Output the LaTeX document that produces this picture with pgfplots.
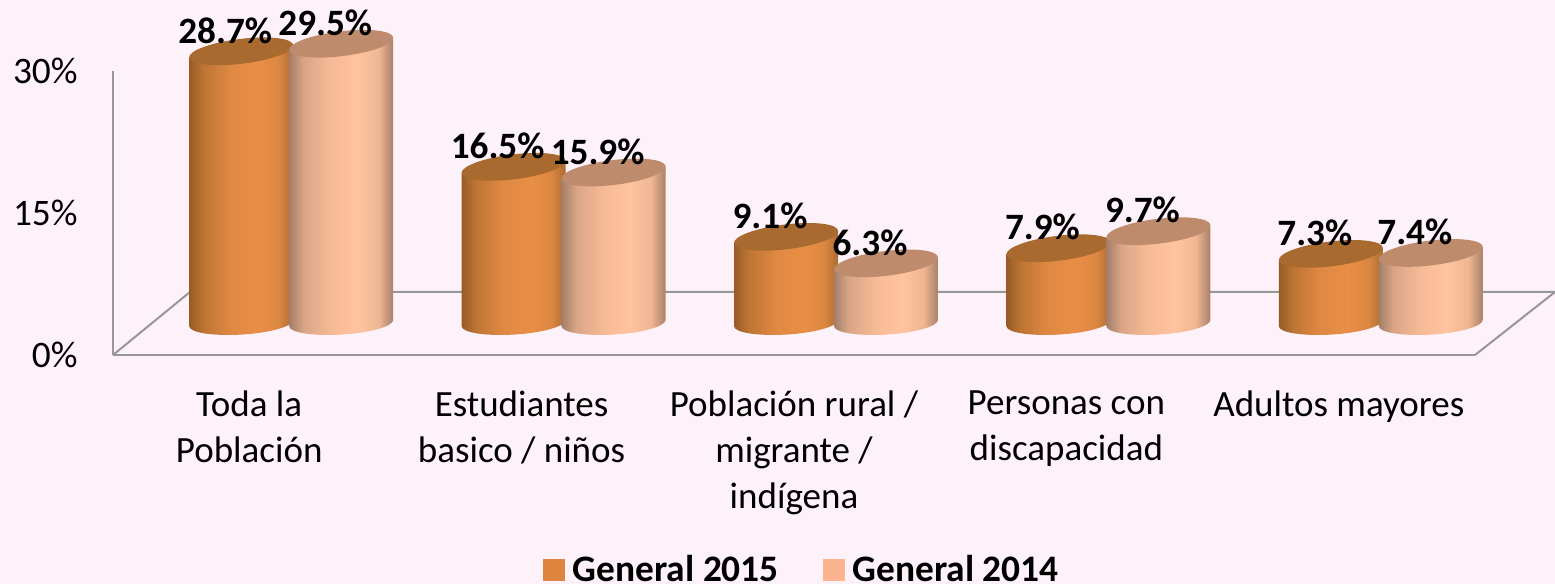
\documentclass[border=0pt]{standalone}
\usepackage{fontspec}
\setmainfont{Carlito}
\usepackage{pgfplots}
\pgfplotsset{compat=1.18}

\definecolor{bg}{HTML}{FEF2FA}
\definecolor{wall}{HTML}{979797}
\definecolor{topA}{HTML}{A96A30}
\definecolor{topB}{HTML}{BE8C6D}
\definecolor{legA}{HTML}{DD853E}
\definecolor{legB}{HTML}{FBB48F}
\pgfdeclarehorizontalshading{cylA}{100bp}{
  rgb(0bp)=(.588,.361,.149); rgb(25bp)=(.588,.361,.149); rgb(32bp)=(.745,.459,.204);
  rgb(45bp)=(.875,.537,.263); rgb(58bp)=(.91,.557,.275); rgb(68bp)=(.863,.533,.259);
  rgb(75bp)=(.675,.42,.188); rgb(100bp)=(.675,.42,.188)}
\pgfdeclarehorizontalshading{cylB}{100bp}{
  rgb(0bp)=(.643,.494,.408); rgb(25bp)=(.643,.494,.408); rgb(32bp)=(.851,.647,.529);
  rgb(45bp)=(.965,.729,.588); rgb(58bp)=(1,.769,.624); rgb(68bp)=(.937,.714,.576);
  rgb(75bp)=(.659,.502,.412); rgb(100bp)=(.659,.502,.412)}

% 1 px of the reference
\def\px{0.5pt}
\pgfdeclareplotmark{nothing}{}

% one cylinder, origin at the data point: #1 x offset, #2 shading, #3 cap colour
\newcommand\cyl[3]{%
  \pgfscope
    \pgftransformshift{\pgfpoint{#1*\px}{32*\px}}%
    \pgfmathsetmacro\H{\val*9.467}%
    \path[x=\px,y=\px,shading=#2,draw=none,shade] (-52,-6) -- (-52,{-\H-3.1})
      .. controls (-52,{-\H-9.5}) and (-28.7,{-\H-13.2}) .. (0,{-\H-11.6})
      .. controls (28.7,{-\H-10}) and (52,{-\H-3.3}) .. (52,{-\H+3.1})
      -- (52,6) -- cycle;
    \pgfscope
      \pgftransformcm{1}{0.115}{0}{1}{\pgfpointorigin}%
      \fill[#3,draw=none,x=\px,y=\px] (0,0) ellipse [x radius=52,y radius=12.5];
    \endpgfscope
    \node[font=\fontsize{18.6}{22}\selectfont\bfseries,inner sep=0pt,text=black,x=\px,y=\px]
      at (-16,21) {\pgfmathprintnumber[fixed,fixed zerofill,precision=1]{\val}\%};
  \endpgfscope
}

\begin{document}
\begin{tikzpicture}[x=\px,y=\px]
\path[use as bounding box,fill=bg] (-113,-229) rectangle (1442,355);
% floor
\draw[wall,line width=1pt] (0,0) -- (77,63) -- (1442,63) -- (1362,0);
\begin{axis}[
    scale only axis,
    width=681pt, height=142pt,
    xmin=-0.5, xmax=4.5,
    ymin=0, ymax=30,
    clip=false,
    axis x line=bottom, axis y line=left,
    axis line style={wall,line width=1pt,-},
    tick style={draw=none},
    xtick=data,
    xticklabels={{Toda la\\Población},{Estudiantes\\basico / niños},{Población rural /\\migrante /\\indígena},{Personas con\\discapacidad},{Adultos mayores}},
    xticklabel style={align=center,anchor=north,yshift=-12pt,
      font=\fontsize{18.5}{23}\selectfont},
    ytick={0,15,30},
    yticklabel={\pgfmathprintnumber{\tick}\%},
    yticklabel style={anchor=east,xshift=-12pt,font=\fontsize{18.7}{22}\selectfont},
    /pgf/number format/assume math mode=true,
    legend style={at={(0.5065,-0.755)},anchor=center,draw=none,fill=none,
      legend columns=2,font=\fontsize{18.7}{22}\selectfont\bfseries,
      /tikz/every even column/.style={column sep=20pt},
      /tikz/every odd column/.style={column sep=2pt}},
]
\addplot[forget plot,only marks,mark=nothing,scatter,
    visualization depends on=rawy\as\val,
    scatter/@pre marker code/.code={\cyl{-8}{cylA}{topA}},
    scatter/@post marker code/.code={}]
  coordinates {(0,28.7) (1,16.5) (2,9.1) (3,7.9) (4,7.3)};
\addplot[forget plot,only marks,mark=nothing,scatter,
    visualization depends on=rawy\as\val,
    scatter/@pre marker code/.code={\cyl{92}{cylB}{topB}},
    scatter/@post marker code/.code={}]
  coordinates {(0,29.5) (1,15.9) (2,6.3) (3,9.7) (4,7.4)};
\addlegendimage{legend image code/.code={\fill[legA] (0pt,-5.25pt) rectangle (10.5pt,5.25pt);}}
\addlegendimage{legend image code/.code={\fill[legB] (0pt,-5.25pt) rectangle (10.5pt,5.25pt);}}
\legend{General 2015,General 2014}
\end{axis}
\end{tikzpicture}
\end{document}
